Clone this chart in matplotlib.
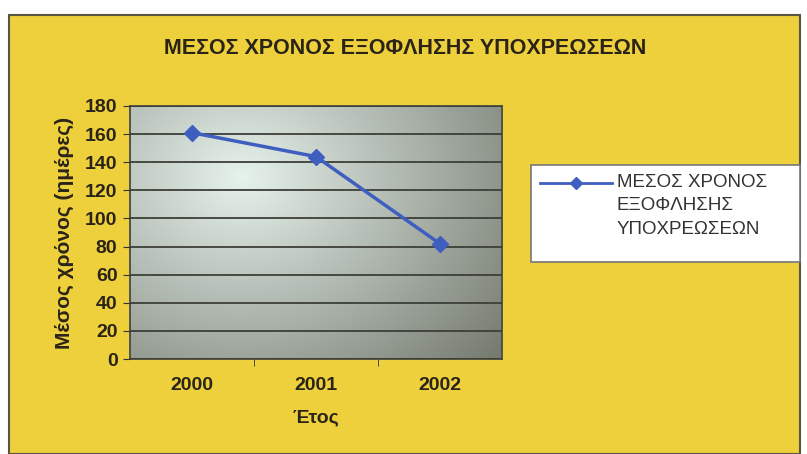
import numpy as np
import matplotlib
matplotlib.use("Agg")
import matplotlib.pyplot as plt
from matplotlib import font_manager
from matplotlib.patches import Rectangle
from matplotlib.lines import Line2D

# Data
years = ["2000", "2001", "2002"]
days = [161, 144, 82]
series_label = "ΜΕΣΟΣ ΧΡΟΝΟΣ\nΕΞΟΦΛΗΣΗΣ\nΥΠΟΧΡΕΩΣΕΩΝ"
title = "ΜΕΣΟΣ ΧΡΟΝΟΣ ΕΞΟΦΛΗΣΗΣ ΥΠΟΧΡΕΩΣΕΩΝ"
ylabel = "Μέσος χρόνος (ημέρες)"
xlabel = "Έτος"
yticks = [0, 20, 40, 60, 80, 100, 120, 140, 160, 180]


def pick(*names):
    for n in names:
        try:
            font_manager.findfont(font_manager.FontProperties(family=n),
                                  fallback_to_default=False)
            return n
        except Exception:
            pass
    return "DejaVu Sans"


narrow = pick("Liberation Sans Narrow", "Liberation Sans")

yellow = "#eecf3c"
W, H = 807, 454
fig = plt.figure(figsize=(W / 100, H / 100), dpi=100)
fig.patch.set_facecolor("white")

# yellow chart panel
panel = Rectangle((9 / W, 0), (800 - 9) / W, (H - 15) / H, transform=fig.transFigure,
                  facecolor=yellow, edgecolor="#5a5540", linewidth=1.5, zorder=0)
fig.patches.append(panel)

# plot area
x0, x1, y0, y1 = 130, 502, 106, 359
ax = fig.add_axes([x0 / W, 1 - y1 / H, (x1 - x0) / W, (y1 - y0) / H])
ax.set_zorder(1)
ax.set_facecolor("none")

# gradient background of the plot area
gx = np.linspace(0, 1, 300)
gy = np.linspace(0, 1, 200)
GX, GY = np.meshgrid(gx, gy)
d = np.sqrt(((GX - 0.3) / 0.9) ** 2 + ((GY - 0.72) / 1.1) ** 2)
t = np.clip(d, 0, 1) ** 1.0
light = np.array([230, 242, 236]) / 255
dark = np.array([118, 123, 112]) / 255
img = light[None, None, :] * (1 - t[..., None]) + dark[None, None, :] * t[..., None]
ax.imshow(img, extent=[-0.5, 2.5, 0, 180], origin="lower", aspect="auto", zorder=0)

ax.set_xlim(-0.5, 2.5)
ax.set_ylim(0, 180)
ax.set_yticks(yticks)
ax.set_xticks(range(len(years)))
ax.set_xticklabels(years)
ax.set_xticks([0.5, 1.5], minor=True)
ax.tick_params(axis="x", which="major", length=0, pad=13)
ax.tick_params(axis="x", which="minor", length=5, color="#333333")
ax.tick_params(axis="y", length=5, color="#333333", pad=4)
for lab in ax.get_xticklabels() + ax.get_yticklabels():
    lab.set_fontfamily(narrow)
    lab.set_fontweight("bold")
    lab.set_fontsize(14)
    lab.set_color("#2a2418")

ax.grid(axis="y", color="#3c3f38", linewidth=1.3)
ax.set_axisbelow(False)
for s in ax.spines.values():
    s.set_color("#4a4a42")
    s.set_linewidth(1.3)

ax.plot(range(len(years)), days, color="#3f5fc0", linewidth=2.5, marker="D",
        markersize=8, markerfacecolor="#3f5fc0", markeredgecolor="#3f5fc0", zorder=3)

ax.set_ylabel(ylabel, fontfamily=narrow, fontweight="bold", fontsize=15,
              color="#2a2418", labelpad=8)
ax.set_xlabel(xlabel, fontfamily=narrow, fontweight="bold", fontsize=14,
              color="#2a2418", labelpad=11)

fig.text(405 / W, 1 - 48 / H, title, ha="center", va="center",
         fontfamily=narrow, fontweight="bold", fontsize=15.5, color="#2a2418")

# legend box
lx0, lx1, ly0, ly1 = 531, 800, 165, 262
fig.patches.append(Rectangle((lx0 / W, 1 - ly1 / H), (lx1 - lx0) / W, (ly1 - ly0) / H,
                             transform=fig.transFigure, facecolor="white",
                             edgecolor="#777777", linewidth=1.2, zorder=2))
fig.lines.append(Line2D([540 / W, 612 / W], [1 - 183 / H, 1 - 183 / H],
                        transform=fig.transFigure, color="#3f5fc0", linewidth=2,
                        zorder=3))
fig.lines.append(Line2D([576 / W], [1 - 183 / H], transform=fig.transFigure,
                        color="#3f5fc0", marker="D", markersize=6, zorder=3))
fig.text(617 / W, 1 - 174 / H, series_label, ha="left", va="top",
         fontfamily=narrow, fontsize=13.5, color="#333333", linespacing=1.5, zorder=4)

fig.savefig("out.png", dpi=100, facecolor=fig.get_facecolor())
